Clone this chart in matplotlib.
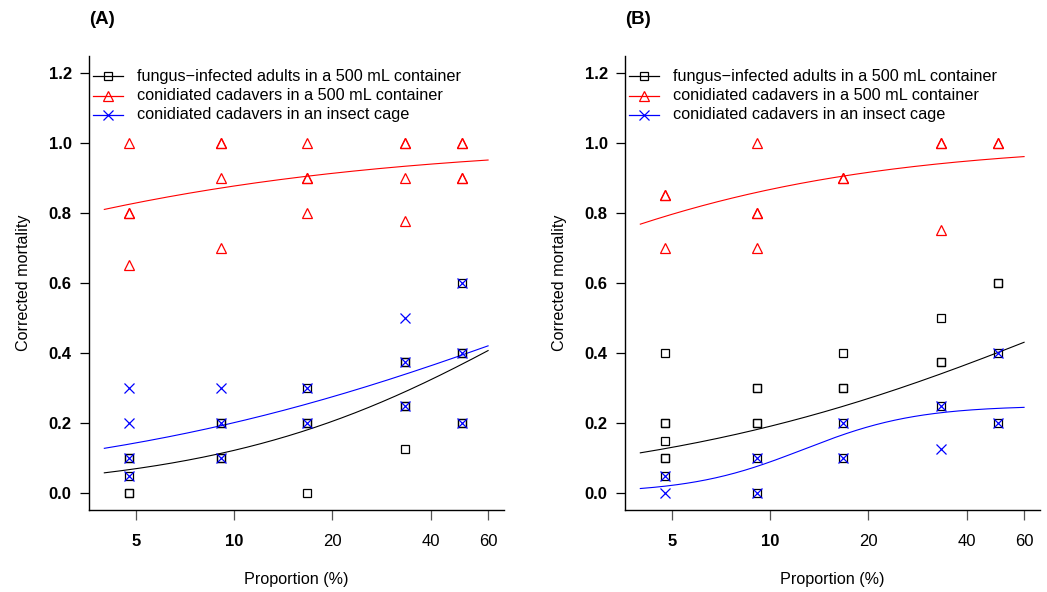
import numpy as np
import matplotlib
matplotlib.use("Agg")
import matplotlib.pyplot as plt

plt.rcParams['font.family'] = ['Liberation Sans', 'DejaVu Sans']

# proportion of infected insects (%) at each treatment level
levels = [100 / 21, 100 / 11, 100 / 6, 100 / 3, 50.0]

series_labels = ["fungus\u2212infected adults in a 500 mL container",
                 "conidiated cadavers in a 500 mL container",
                 "conidiated cadavers in an insect cage"]

# corrected mortality per replicate, grouped by level
a_adults = [[0.1, 0.1, 0.05, 0.0, 0.0], [0.2, 0.2, 0.1, 0.1], [0.3, 0.2, 0.2, 0.0],
            [0.375, 0.375, 0.25, 0.25, 0.125], [0.6, 0.4, 0.4, 0.2, 0.2]]
a_container = [[1.0, 0.8, 0.8, 0.65], [1.0, 1.0, 0.9, 0.7], [1.0, 0.9, 0.9, 0.8],
               [1.0, 1.0, 0.9, 0.778], [1.0, 1.0, 0.9, 0.9]]
a_cage = [[0.3, 0.2, 0.1, 0.05], [0.3, 0.2, 0.1], [0.3, 0.2],
          [0.5, 0.375, 0.25], [0.6, 0.4, 0.2]]

b_adults = [[0.4, 0.2, 0.2, 0.15, 0.1, 0.1, 0.05], [0.3, 0.3, 0.2, 0.2, 0.1, 0.0],
            [0.4, 0.3, 0.3, 0.2, 0.1], [0.5, 0.375, 0.375, 0.25], [0.6, 0.6, 0.4, 0.2]]
b_container = [[0.85, 0.85, 0.7], [1.0, 0.8, 0.8, 0.7], [0.9, 0.9],
               [1.0, 1.0, 0.75], [1.0, 1.0]]
b_cage = [[0.05, 0.0], [0.1, 0.0], [0.2, 0.1], [0.25, 0.125], [0.4, 0.2]]

# fitted logistic curves on log(proportion): (upper asymptote, intercept, slope)
a_fits = [(1.0, -4.02, 0.89), (1.0, 0.674, 0.56), (1.0, -2.736, 0.59)]
b_fits = [(1.0, -2.94, 0.65), (1.0, 0.171, 0.74), (0.25, -6.343, 2.5)]

xticks = [5, 10, 20, 40, 60]
bold_xticks = [5, 10]
yticks = [0.0, 0.2, 0.4, 0.6, 0.8, 1.0, 1.2]

colors = ["black", "#ff0000", "#0000ff"]
markers = ["s", "^", "x"]
msizes = [6.0, 7.5, 6.5]

W, H = 1047, 592
fig = plt.figure(figsize=(W / 100, H / 100), dpi=100)


def px_axes(left, right, top, bottom):
    return fig.add_axes([left / W, 1 - bottom / H, (right - left) / W, (bottom - top) / H])


def draw_panel(ax, groups, fits, tag):
    xs_curve = np.exp(np.linspace(np.log(4), np.log(60), 200))
    for k in range(3):
        top_, a, b = fits[k]
        yc = top_ / (1 + np.exp(-(a + b * np.log(xs_curve))))
        ax.plot(xs_curve, yc, color=colors[k], lw=0.8, zorder=2)
    for k in range(3):
        xs, ys = [], []
        for lvl, vals in zip(levels, groups[k]):
            xs += [lvl] * len(vals)
            ys += vals
        for x, y in zip(xs, ys):
            if markers[k] == "x":
                ax.plot(x, y, ls="none", marker="x", ms=msizes[k], mew=0.9,
                        color=colors[k], zorder=3)
            else:
                ax.plot(x, y, ls="none", marker=markers[k], ms=msizes[k], mew=0.9,
                        mfc="none", mec=colors[k], zorder=3)

    ax.set_xscale("log")
    ax.set_xlim(3.59, 66.9)
    ax.set_ylim(-0.048, 1.248)
    ax.set_xticks(xticks)
    ax.xaxis.set_minor_locator(matplotlib.ticker.NullLocator())
    ax.set_xticklabels([str(t) for t in xticks])
    for lab, t in zip(ax.get_xticklabels(), xticks):
        lab.set_fontweight("bold" if t in bold_xticks else "normal")
        lab.set_fontsize(12)
    ax.set_yticks(yticks)
    ax.set_yticklabels([f"{t:.1f}" for t in yticks], fontsize=12, fontweight="bold")
    ax.tick_params(axis="x", length=7, width=0.9, pad=10, color="#555555")
    ax.tick_params(axis="y", length=6.5, width=0.9, pad=6)
    for s in ["top", "right"]:
        ax.spines[s].set_visible(False)
    for s in ["left", "bottom"]:
        ax.spines[s].set_linewidth(1.0)

    ax.set_xlabel("Proportion (%)", fontsize=11.6, labelpad=17)
    ax.set_ylabel("Corrected mortality", fontsize=11.6, labelpad=12.5)
    ax.text(0.0, 1.0 + 36 / 454, tag, transform=ax.transAxes, fontsize=13.5,
            fontweight="bold", ha="left", va="center")

    # legend
    ax_w, ax_h = 414.5, 454.0
    for k, yrow in enumerate([76, 96, 115]):
        yf = (510 - yrow) / ax_h
        ax.plot([4 / ax_w, 34 / ax_w], [yf, yf], transform=ax.transAxes,
                color=colors[k], lw=0.9, clip_on=False, zorder=4)
        if markers[k] == "x":
            ax.plot([19 / ax_w], [yf], transform=ax.transAxes, ls="none",
                    marker="x", ms=msizes[k], mew=0.9, color=colors[k], clip_on=False)
        else:
            ax.plot([19 / ax_w], [yf], transform=ax.transAxes, ls="none",
                    marker=markers[k], ms=msizes[k], mew=0.9, mfc="white",
                    mec=colors[k], clip_on=False)
        ax.text(48 / ax_w, yf, series_labels[k], transform=ax.transAxes,
                fontsize=11.7, ha="left", va="center")


ax1 = px_axes(89, 503.5, 56, 510)
draw_panel(ax1, [a_adults, a_container, a_cage], a_fits, "(A)")
ax2 = px_axes(625, 1039.5, 56, 510)
draw_panel(ax2, [b_adults, b_container, b_cage], b_fits, "(B)")

fig.savefig("out.png", dpi=100)
